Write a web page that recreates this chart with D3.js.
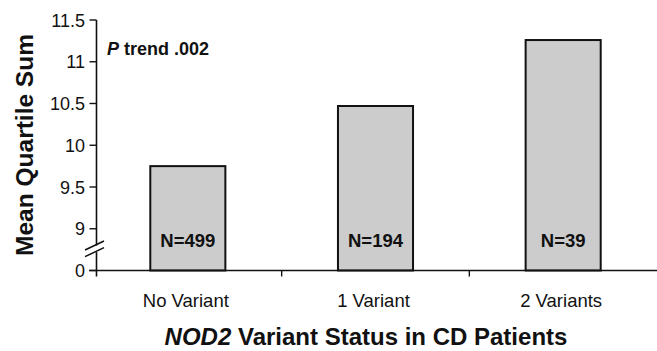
<!DOCTYPE html>
<html><head><meta charset="utf-8">
<script src="https://cdn.jsdelivr.net/npm/d3@7"></script>
<style>body{margin:0;background:#fff}svg{display:block}text{font-family:"Liberation Sans",Arial,sans-serif}</style>
</head><body>
<svg id="c" width="657" height="351"></svg>
<script>
const categories = ["No Variant", "1 Variant", "2 Variants"];
const meanQuartileSum = [9.75, 10.47, 11.26];
const sampleSizes = ["N=499", "N=194", "N=39"];
const tickValues = [8.5, 9, 9.5, 10, 10.5, 11, 11.5];
const tickLabels = ["0", "9", "9.5", "10", "10.5", "11", "11.5"];

const svg = d3.select("#c");
const axisX = 96.5;
const x = d3.scaleBand().domain(categories).range([94, 657]).paddingInner(0.6).paddingOuter(0.3);
const xb = d3.scaleBand().domain(categories).range([94, 657]);
const y = d3.scaleLinear().domain([8.5, 11.5]).range([270.5, 20]);

// bars
svg.selectAll("rect.bar").data(meanQuartileSum).join("rect")
  .attr("class", "bar")
  .attr("x", (d, i) => x(categories[i]))
  .attr("width", x.bandwidth())
  .attr("y", d => y(d))
  .attr("height", d => y(8.5) - y(d))
  .attr("fill", "#cccccc").attr("stroke", "#111").attr("stroke-width", 2);

// N labels
svg.selectAll("text.n").data(sampleSizes).join("text")
  .attr("x", (d, i) => x(categories[i]) + x.bandwidth() / 2)
  .attr("y", 246.5)
  .attr("text-anchor", "middle").attr("font-weight", "bold").attr("font-size", 18.5)
  .attr("fill", "#111").text(d => d);

// x axis
const gx = svg.append("g").attr("transform", `translate(0,${y(8.5)})`);
gx.append("line").attr("x1", 89).attr("x2", 657).attr("stroke", "#111").attr("stroke-width", 1.6);
gx.selectAll("line.bt").data(categories.slice(1)).join("line")
  .attr("x1", d => xb(d)).attr("x2", d => xb(d)).attr("y1", 0).attr("y2", 6)
  .attr("stroke", "#111").attr("stroke-width", 1.4);
gx.selectAll("text.cat").data(categories).join("text")
  .attr("x", d => xb(d) + xb.bandwidth() / 2 - 2)
  .attr("y", 36.5).attr("text-anchor", "middle").attr("font-size", 18.5)
  .attr("fill", "#111").text(d => d);

// y axis
const gy = svg.append("g");
gy.append("line").attr("x1", axisX).attr("x2", axisX).attr("y1", y(11.5)).attr("y2", y(8.5) + 6)
  .attr("stroke", "#111").attr("stroke-width", 1.6);
gy.selectAll("line.t").data(tickValues).join("line")
  .attr("x1", axisX - 7).attr("x2", axisX).attr("y1", d => y(d)).attr("y2", d => y(d))
  .attr("stroke", "#111").attr("stroke-width", 1.4);
gy.selectAll("text.t").data(tickValues).join("text")
  .attr("x", 85).attr("y", d => y(d) + 6.5).attr("text-anchor", "end").attr("font-size", 18)
  .attr("fill", "#111").text((d, i) => tickLabels[i]);

// axis break
const b1 = y(8.8), b2 = y(8.72);
gy.append("rect").attr("x", axisX - 3).attr("y", b1).attr("width", 6).attr("height", b2 - b1).attr("fill", "#fff");
[b1, b2].forEach(b => {
  gy.append("line").attr("x1", 85).attr("x2", 104).attr("y1", b + 4.5).attr("y2", b - 4.5)
    .attr("stroke", "#111").attr("stroke-width", 1.6);
});

// annotation
const ann = svg.append("text").attr("x", 107).attr("y", 55).attr("font-size", 18).attr("font-weight", "bold").attr("fill", "#111");
ann.append("tspan").attr("font-style", "italic").text("P");
ann.append("tspan").text(" trend .002");

// y title
svg.append("text").attr("transform", "translate(33,145) rotate(-90)")
  .attr("text-anchor", "middle").attr("font-size", 24.5).attr("font-weight", "bold").attr("fill", "#111")
  .text("Mean Quartile Sum");

// x title
const xt = svg.append("text").attr("x", 366).attr("y", 345).attr("text-anchor", "middle")
  .attr("font-size", 24).attr("font-weight", "bold").attr("fill", "#111");
xt.append("tspan").attr("font-style", "italic").text("NOD2");
xt.append("tspan").text(" Variant Status in CD Patients");
</script>
</body></html>
